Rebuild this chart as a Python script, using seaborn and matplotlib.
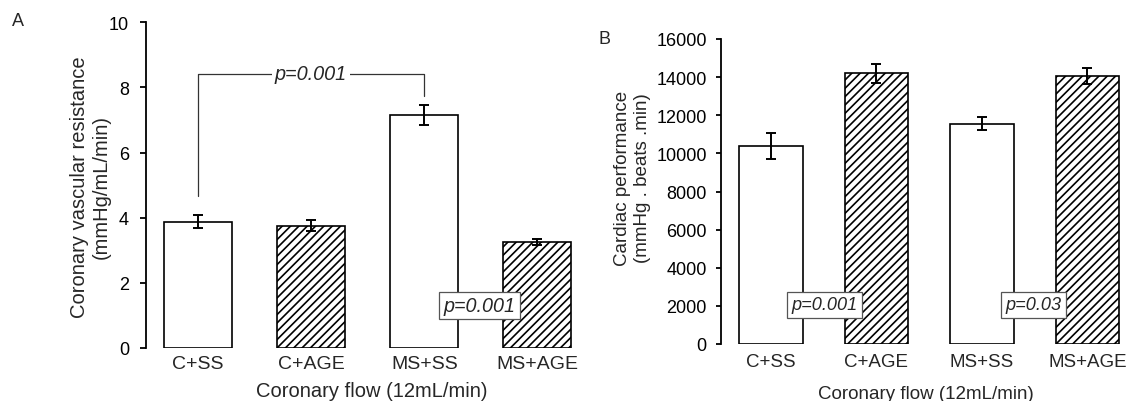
import matplotlib
matplotlib.use("Agg")
import matplotlib.pyplot as plt
import seaborn as sns
import pandas as pd

categories = ["C+SS", "C+AGE", "MS+SS", "MS+AGE"]
hatched = [False, True, False, True]

cvr_values = [3.87, 3.75, 7.16, 3.25]
cvr_errors = [0.20, 0.17, 0.31, 0.10]

cp_values = [10400, 14200, 11560, 14040]
cp_errors = [680, 500, 340, 420]

sns.set_style("white")
plt.rcParams["font.family"] = ["Liberation Sans", "DejaVu Sans"]
plt.rcParams["hatch.linewidth"] = 1.2

W, H = 1129, 402
fig = plt.figure(figsize=(W / 100, H / 100), dpi=100)
axA = fig.add_axes([146 / W, 53 / H, 442.4 / W, 325.7 / H])
axB = fig.add_axes([721 / W, 57 / H, 403.4 / W, 305 / H])


def draw(ax, values, errors, ylim, yticks, fs_tick_x, fs_tick_y, fs_lab,
         tick_len, tick_pad, xpad):
    df = pd.DataFrame({"group": categories, "value": values})
    sns.barplot(data=df, x="group", y="value", ax=ax, color="white",
                edgecolor="black", linewidth=1.2, width=0.6, saturation=1)
    for patch, h in zip(ax.patches, hatched):
        patch.set_facecolor("white")
        if h:
            patch.set_hatch("////")
    ax.errorbar(range(len(values)), values, yerr=errors, fmt="none",
                ecolor="black", elinewidth=1.4, capsize=3.8, capthick=1.4,
                zorder=5)
    ax.set_ylim(*ylim)
    ax.set_yticks(yticks)
    ax.set_xlabel("Coronary flow (12mL/min)", fontsize=fs_lab)
    for s in ["top", "right", "bottom"]:
        ax.spines[s].set_visible(False)
    ax.spines["left"].set_linewidth(1.3)
    ax.spines["left"].set_color("black")
    ax.tick_params(axis="y", left=True, direction="out", length=tick_len,
                   width=1.3, pad=tick_pad, labelsize=fs_tick_y,
                   colors="black")
    ax.tick_params(axis="x", bottom=False, labelsize=fs_tick_x, pad=xpad)
    ax.set_facecolor("none")


draw(axA, cvr_values, cvr_errors, (0, 10), [0, 2, 4, 6, 8, 10],
     14, 13, 14.5, 4.3, 8, 1.5)
axA.set_xlim(-0.458, 3.45)
axA.set_ylabel("Coronary vascular resistance\n(mmHg/mL/min)", fontsize=14.5)
axA.yaxis.set_label_coords(-(146 - 111) / 442.4, 0.497)
axA.xaxis.set_label_coords((371.5 - 146) / 442.4, -(397 - 349) / 325.7)
axA.xaxis.label.set_va("baseline")

draw(axB, cp_values, cp_errors, (0, 16000), list(range(0, 16001, 2000)),
     13.5, 13, 13.5, 3.3, 7, 3)
axB.set_xlim(-0.474, 3.35)
axB.set_ylabel("Cardiac performance\n(mmHg . beats .min)", fontsize=13.5)
axB.yaxis.set_label_coords(-(721 - 651) / 403.4, (345 - 178) / 305)
axB.xaxis.set_label_coords((925.8 - 721) / 403.4, -(399.5 - 345) / 305)
axB.xaxis.label.set_va("baseline")

# Bracket in panel A
axA.plot([0, 0, 2, 2], [4.67, 8.42, 8.42, 7.74], color="#333333", lw=0.9,
         zorder=3)
axA.text(1.0, 8.42, "p=0.001", style="italic", fontsize=14.3, ha="center",
         va="center", zorder=4,
         bbox=dict(facecolor="white", edgecolor="none", pad=2))

boxA = dict(boxstyle="square,pad=0.22", facecolor="white",
            edgecolor="#555555", lw=0.9)
boxB = dict(boxstyle="square,pad=0.25", facecolor="white",
            edgecolor="#555555", lw=0.9)
axA.text(2.49, 1.30, "p=0.001", style="italic", fontsize=14.2, ha="center",
         va="center", bbox=boxA, zorder=6)
axB.text(0.51, 2050, "p=0.001", style="italic", fontsize=13.1, ha="center",
         va="center", bbox=boxB, zorder=6)
axB.text(2.49, 2050, "p=0.03", style="italic", fontsize=13.1, ha="center",
         va="center", bbox=boxB, zorder=6)

fig.text(18.3 / W, 1 - 21.7 / H, "A", fontsize=13, ha="center", va="center")
fig.text(604.5 / W, 1 - 39 / H, "B", fontsize=13, ha="center", va="center")

fig.savefig("out.png", dpi=100)
